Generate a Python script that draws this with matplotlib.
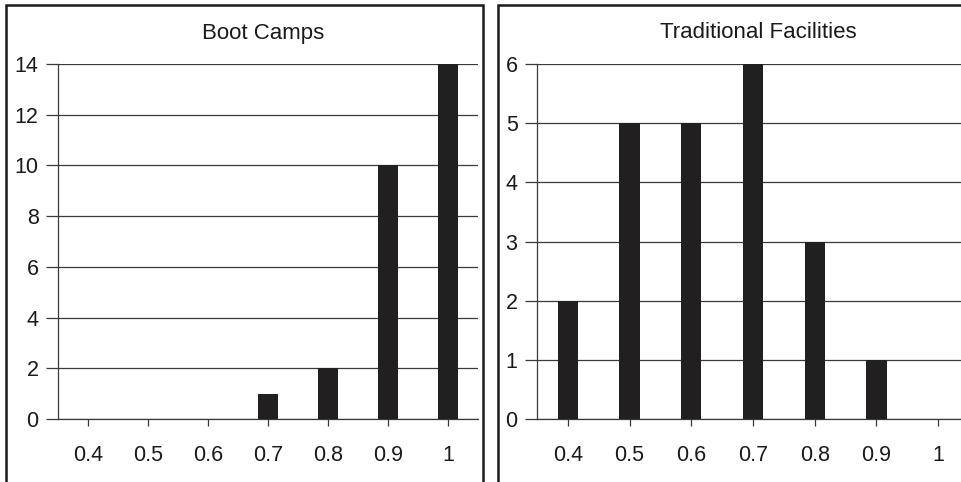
import matplotlib
matplotlib.use("Agg")
import matplotlib.pyplot as plt
from matplotlib.patches import Rectangle

plt.rcParams['font.family'] = ['Liberation Sans', 'DejaVu Sans']

categories = ["0.4", "0.5", "0.6", "0.7", "0.8", "0.9", "1"]
boot_camps = [0, 0, 0, 1, 2, 10, 14]
traditional = [2, 5, 5, 6, 3, 1, 0]
boot_yticks = [0, 2, 4, 6, 8, 10, 12, 14]
trad_yticks = [0, 1, 2, 3, 4, 5, 6]

W, H = 962, 482
fig = plt.figure(figsize=(W / 100, H / 100), dpi=100)

bar_color = "#221f20"
grid_color = "#3a3a3a"


def fx(px):
    return px / W


def fy(py):
    return 1 - py / H


# panel borders
for x0, x1 in [(6, 483), (498, 975)]:
    fig.patches.append(Rectangle((fx(x0), fy(492)), fx(x1) - fx(x0), fy(5) - fy(492),
                                 transform=fig.transFigure, fill=False,
                                 edgecolor="#1a1a1a", linewidth=1.8, clip_on=False))


def panel(rect, values, yticks, title, title_x):
    ax = fig.add_axes(rect)
    x = list(range(len(categories)))
    ax.bar(x, values, width=0.33, color=bar_color, zorder=3)
    ax.set_xlim(-0.5, len(categories) - 0.5)
    ax.set_ylim(0, yticks[-1])
    ax.set_yticks(yticks)
    ax.set_xticks(x)
    ax.set_xticklabels(categories)
    for s in ["top", "right"]:
        ax.spines[s].set_visible(False)
    ax.spines["left"].set_color(grid_color)
    ax.spines["bottom"].set_color(grid_color)
    ax.spines["left"].set_linewidth(0.9)
    ax.spines["bottom"].set_linewidth(0.9)
    ax.yaxis.grid(True, color=grid_color, linewidth=0.9, zorder=1)
    ax.set_axisbelow(True)
    ax.tick_params(axis="y", length=9, width=0.9, color=grid_color, pad=5,
                   labelsize=15.5, labelcolor="#1a1a1a")
    ax.tick_params(axis="x", length=5, width=0.9, color=grid_color, pad=14,
                   labelsize=15.5, labelcolor="#1a1a1a")
    fig.text(title_x, fy(33), title, ha="center", va="center", fontsize=16,
             color="#1a1a1a")
    return ax


panel([fx(58), fy(419), fx(478) - fx(58), fy(64) - fy(419)], boot_camps, boot_yticks,
      "Boot Camps", fx(263))
panel([fx(537), fy(419), fx(969) - fx(537), fy(64) - fy(419)], traditional, trad_yticks,
      "Traditional Facilities", fx(758))

fig.savefig("out.png", dpi=100)
